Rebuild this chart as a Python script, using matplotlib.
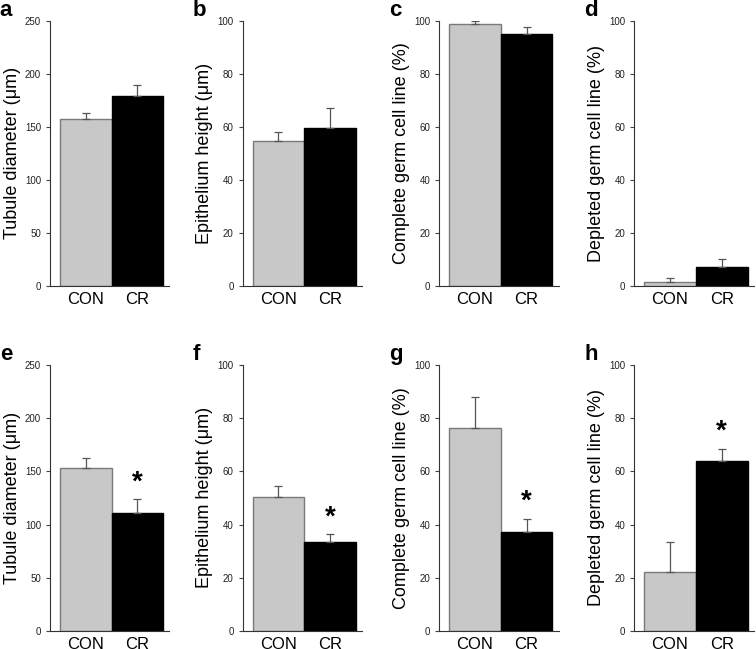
import matplotlib
matplotlib.use("Agg")
import matplotlib.pyplot as plt

plt.rcParams['font.family'] = ['Liberation Sans', 'DejaVu Sans']

groups = ['CON', 'CR']
panel_letters = ['a', 'b', 'c', 'd', 'e', 'f', 'g', 'h']
ylabels = ['Tubule diameter (\u03bcm)', 'Epithelium height (\u03bcm)',
           'Complete germ cell line (%)', 'Depleted germ cell line (%)'] * 2
ymax = [250, 100, 100, 100, 250, 100, 100, 100]
ystep = [50, 20, 20, 20, 50, 20, 20, 20]

means = [
    [157, 179], [54.8, 59.5], [98.7, 95.0], [1.6, 7.3],
    [153.3, 110.8], [50.5, 33.3], [76.4, 37.1], [22.3, 63.7],
]
errs = [
    [5.7, 10], [3.1, 7.5], [1.0, 2.5], [1.3, 2.7],
    [8.7, 12.8], [4.0, 3.0], [11.3, 4.9], [11.3, 4.6],
]
signif = [
    [False, False], [False, False], [False, False], [False, False],
    [False, True], [False, True], [False, True], [False, True],
]

fig = plt.figure(figsize=(7.56, 6.49), dpi=100)
lefts = [0.0661, 0.321, 0.581, 0.839]
bottoms = [0.5593, 0.0277]
heights = [0.4088, 0.4103]
colors = ['#c8c8c8', 'black']
edges = ['#7a7a7a', 'black']

for i in range(8):
    row, col = divmod(i, 4)
    ax = fig.add_axes([lefts[col], bottoms[row], 0.158, heights[row]])
    x = [0, 1]
    ax.bar(x, means[i], width=1.0, color=colors, edgecolor=edges, linewidth=1)
    for j in range(2):
        ax.errorbar(x[j], means[i][j], yerr=[[0], [errs[i][j]]], fmt='none',
                    ecolor='#555555', elinewidth=0.9, capsize=3, capthick=0.9)
        if signif[i][j]:
            ax.annotate('*', (x[j], means[i][j] + errs[i][j]),
                        xytext=(0, 3), textcoords='offset points',
                        ha='center', va='bottom', fontsize=20, fontweight='bold')
    ax.set_xlim(-0.69, 1.62)
    ax.set_ylim(0, ymax[i])
    ax.set_yticks(range(0, ymax[i] + 1, ystep[i]))
    ax.set_xticks(x)
    ax.set_xticklabels(groups, fontsize=12)
    ax.tick_params(axis='x', length=0, pad=4)
    ax.tick_params(axis='y', labelsize=7, length=3, width=0.8,
                   colors='#444444', labelcolor='#222222')
    ax.spines['top'].set_visible(False)
    ax.spines['right'].set_visible(False)
    ax.spines['left'].set_color('#333333')
    ax.spines['bottom'].set_color('#333333')
    ax.set_ylabel(ylabels[i], fontsize=13, labelpad=3)
    ax.text(-0.42, 1.04, panel_letters[i], transform=ax.transAxes,
            fontsize=16, fontweight='bold', va='center', ha='left')

fig.savefig('out.png', dpi=100)
